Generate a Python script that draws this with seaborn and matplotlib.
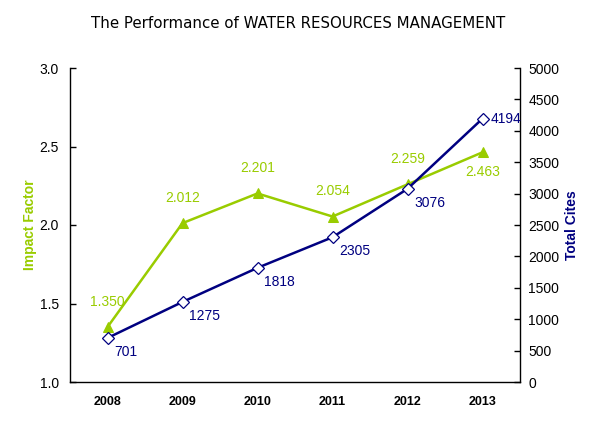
import pandas as pd
import matplotlib
matplotlib.use("Agg")
import matplotlib.pyplot as plt
from matplotlib.ticker import MultipleLocator
import seaborn as sns

# DATA
years = ["2008", "2009", "2010", "2011", "2012", "2013"]
impact_factor = [1.350, 2.012, 2.201, 2.054, 2.259, 2.463]
total_cites = [701, 1275, 1818, 2305, 3076, 4194]

GREEN = '#99CC00'
NAVY = '#000080'

sns.set_style("white")
plt.rcParams['font.family'] = ['Liberation Sans', 'DejaVu Sans']
plt.rcParams['text.color'] = 'black'

df = pd.DataFrame({"Year": years, "IF": impact_factor, "Cites": total_cites})
df["pos"] = range(len(years))

fig = plt.figure(figsize=(5.99, 4.28), dpi=100)
ax = fig.add_axes([70 / 599, 46 / 428, 450 / 599, 314 / 428])
ax2 = ax.twinx()

sns.lineplot(data=df, x="pos", y="IF", ax=ax, color=GREEN, linewidth=1.8,
             marker="^", markersize=7, markerfacecolor=GREEN, markeredgecolor=GREEN)
sns.lineplot(data=df, x="pos", y="Cites", ax=ax2, color=NAVY, linewidth=1.8,
             marker="D", markersize=6.5, markerfacecolor="white", markeredgecolor=NAVY,
             markeredgewidth=0.9)

# labels
for i, v in enumerate(impact_factor):
    dy = -9 if i == len(impact_factor) - 1 else 13
    va = 'top' if dy < 0 else 'bottom'
    ax.annotate(f"{v:.3f}", (i, v), xytext=(0, dy), textcoords='offset points',
                ha='center', va=va, color=GREEN, fontsize=10)
for i, v in enumerate(total_cites):
    if i == len(total_cites) - 1:
        ax2.annotate(str(v), (i, v), xytext=(6, 0), textcoords='offset points',
                     ha='left', va='center', color=NAVY, fontsize=10)
    else:
        ax2.annotate(str(v), (i, v), xytext=(5, -5), textcoords='offset points',
                     ha='left', va='top', color=NAVY, fontsize=10)

ax.set_xlim(-0.5, len(years) - 0.5)
ax.set_ylim(1.0, 3.0)
ax2.set_ylim(0, 5000)
ax2.yaxis.set_major_locator(MultipleLocator(500))
ax.set_yticks([1.0, 1.5, 2.0, 2.5, 3.0])
ax.set_yticklabels(["1.0", "1.5", "2.0", "2.5", "3.0"])
ax.set_xticks(df["pos"])
ax.set_xticklabels(years, fontweight='bold')
ax.set_xticks([p - 0.5 for p in range(len(years) + 1)], minor=True)

for a in (ax, ax2):
    for s in a.spines.values():
        s.set_visible(False)
    a.tick_params(axis='both', which='both', direction='in', length=4,
                  color='black', labelsize=10, labelcolor='black', width=1)
    a.grid(False)
ax.spines['left'].set_visible(True)
ax.spines['bottom'].set_visible(True)
ax2.spines['right'].set_visible(True)
for s in ('left', 'bottom'):
    ax.spines[s].set_color('black')
    ax.spines[s].set_linewidth(1)
ax2.spines['right'].set_color('black')
ax2.spines['right'].set_linewidth(1)
ax.tick_params(axis='x', which='both', pad=10, labelsize=9)
ax.tick_params(axis='y', pad=8)
ax2.tick_params(axis='y', pad=6)

ax.set_xlabel("")
ax.set_ylabel("Impact Factor", color=GREEN, fontweight='bold', fontsize=10, labelpad=2)
ax2.set_ylabel("Total Cites", color=NAVY, fontweight='bold', fontsize=10, labelpad=4)

fig.text(298 / 599, 1 - 24 / 428, "The Performance of WATER RESOURCES MANAGEMENT",
         ha='center', va='center', fontsize=10.8, family='DejaVu Sans', color='black')

fig.savefig("out.png", dpi=100)
